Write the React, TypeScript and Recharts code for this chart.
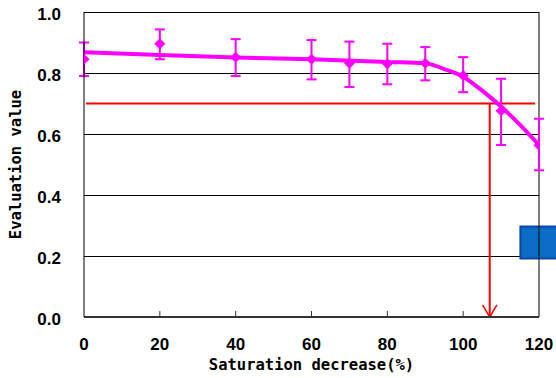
import React from 'react';
import {
  ComposedChart, XAxis, YAxis, CartesianGrid, Line, Scatter, ErrorBar,
  ReferenceLine, ReferenceArea, Label,
} from 'recharts';

// Measured points
const xValues = [0, 20, 40, 60, 70, 80, 90, 100, 110, 120];
const meanValues = [0.845, 0.896, 0.852, 0.845, 0.832, 0.830, 0.832, 0.792, 0.676, 0.563];
const upperValues = [0.900, 0.943, 0.911, 0.908, 0.903, 0.896, 0.885, 0.852, 0.781, 0.650];
const lowerValues = [0.790, 0.845, 0.790, 0.779, 0.754, 0.763, 0.776, 0.737, 0.564, 0.481];

// Fitted curve
const fitX = [0, 20, 40, 60, 80, 90, 95, 100, 105, 110, 115, 120];
const fitY = [0.868, 0.859, 0.851, 0.845, 0.836, 0.832, 0.813, 0.788, 0.742, 0.690, 0.630, 0.564];

// Axis ticks
const xTicks = [0, 20, 40, 60, 80, 100, 120];
const yTicks = [0, 0.2, 0.4, 0.6, 0.8, 1.0];

// Threshold annotation
const thresholdValue = 0.7;
const thresholdX = 107;
const thresholdLineStart = 0.5;
const thresholdLineEnd = 119;
const arrowHalfWidth = 1.9;
const arrowHeight = 0.04;

// Blue box annotation
const boxX = [115.1, 140];
const boxY = [0.192, 0.297];

const points = xValues.map((x, i) => ({
  x,
  y: meanValues[i],
  err: [meanValues[i] - lowerValues[i], upperValues[i] - meanValues[i]],
}));
const fitData = fitX.map((x, i) => ({ x, y: fitY[i] }));

const MAGENTA = '#FF00FF';
const RED = '#FF0000';
const tickFont = '"Liberation Sans", Arial, sans-serif';
const titleFont = '"DejaVu Sans Mono", monospace';

const Diamond = (props: any) => {
  const { cx, cy } = props;
  const r = 5.5;
  return (
    <polygon
      points={`${cx},${cy - r} ${cx + r},${cy} ${cx},${cy + r} ${cx - r},${cy}`}
      fill={MAGENTA}
    />
  );
};

const XTick = (props: any) => {
  const { x, y, payload } = props;
  const v = payload.value;
  return (
    <g>
      {v > 0 && v < 120 && (
        <line x1={x} x2={x} y1={y} y2={y - 6} stroke="#333" strokeWidth={1} />
      )}
      <text
        x={x}
        y={y + 33}
        textAnchor="middle"
        fontFamily={tickFont}
        fontWeight="bold"
        fontSize={17}
        fill="#000"
      >
        {v}
      </text>
    </g>
  );
};

const YTick = (props: any) => {
  const { x, y, payload } = props;
  return (
    <text
      x={x - 23}
      y={y + 7.5}
      textAnchor="end"
      fontFamily={tickFont}
      fontWeight="bold"
      fontSize={17}
      fill="#000"
    >
      {Number(payload.value).toFixed(1)}
    </text>
  );
};

const YTitle = (props: any) => {
  const vb = props.viewBox || {};
  const cx = (vb.x ?? 0) + 16;
  const cy = (vb.y ?? 0) + (vb.height ?? 0) / 2;
  return (
    <text
      x={cx}
      y={cy}
      transform={`rotate(-90, ${cx}, ${cy})`}
      textAnchor="middle"
      dominantBaseline="central"
      fontFamily={titleFont}
      fontWeight="bold"
      fontSize={15.5}
      fill="#000"
    >
      Evaluation value
    </text>
  );
};

const XTitle = (props: any) => {
  const vb = props.viewBox || {};
  const cx = (vb.x ?? 0) + (vb.width ?? 0) / 2;
  const cy = (vb.y ?? 0) + 53;
  return (
    <text
      x={cx}
      y={cy}
      textAnchor="middle"
      fontFamily={titleFont}
      fontWeight="bold"
      fontSize={15.5}
      fill="#000"
    >
      Saturation decrease(%)
    </text>
  );
};

export default function App() {
  return (
    <div style={{ position: 'absolute', left: 0, top: 0, width: 556, height: 378, background: '#fff' }}>
      <ComposedChart
        width={556}
        height={378}
        margin={{ top: 12, right: 17, bottom: 0, left: 0 }}
      >
        <CartesianGrid horizontal vertical={false} stroke="#000" strokeWidth={1} shapeRendering="crispEdges" />
        <XAxis
          type="number"
          dataKey="x"
          domain={[0, 120]}
          ticks={xTicks}
          interval={0}
          height={61}
          tickSize={0}
          tickMargin={0}
          tickLine={false}
          tick={<XTick />}
          axisLine={{ stroke: '#333', strokeWidth: 2 }}
          allowDataOverflow
        >
          <Label content={<XTitle />} />
        </XAxis>
        <YAxis
          type="number"
          dataKey="y"
          domain={[0, 1]}
          ticks={yTicks}
          interval={0}
          width={84}
          tickSize={0}
          tickMargin={0}
          tickLine={false}
          tick={<YTick />}
          axisLine={{ stroke: '#000', strokeWidth: 1 }}
          allowDataOverflow
        >
          <Label content={<YTitle />} />
        </YAxis>
        <ReferenceLine x={120} stroke="#000" strokeWidth={1} />
        <ReferenceLine
          segment={[{ x: thresholdLineStart, y: thresholdValue }, { x: thresholdLineEnd, y: thresholdValue }]}
          stroke={RED}
          strokeWidth={2}
        />
        <ReferenceLine
          segment={[{ x: thresholdX, y: thresholdValue }, { x: thresholdX, y: 0 }]}
          stroke={RED}
          strokeWidth={2}
        />
        <ReferenceLine
          segment={[{ x: thresholdX - arrowHalfWidth, y: arrowHeight }, { x: thresholdX, y: 0 }]}
          stroke={RED}
          strokeWidth={1.5}
        />
        <ReferenceLine
          segment={[{ x: thresholdX + arrowHalfWidth, y: arrowHeight }, { x: thresholdX, y: 0 }]}
          stroke={RED}
          strokeWidth={1.5}
        />
        <ReferenceArea
          x1={boxX[0]}
          x2={boxX[1]}
          y1={boxY[0]}
          y2={boxY[1]}
          ifOverflow="visible"
          fill="#0A6CC4"
          fillOpacity={1}
          stroke="#0B47A8"
          strokeWidth={2}
        />
        <Line
          data={fitData}
          dataKey="y"
          type="monotone"
          stroke={MAGENTA}
          strokeWidth={4}
          dot={false}
          activeDot={false}
          isAnimationActive={false}
        />
        <Scatter data={points} dataKey="y" shape={<Diamond />} isAnimationActive={false}>
          <ErrorBar dataKey="err" direction="y" width={5} stroke={MAGENTA} strokeWidth={2} />
        </Scatter>
      </ComposedChart>
    </div>
  );
}
